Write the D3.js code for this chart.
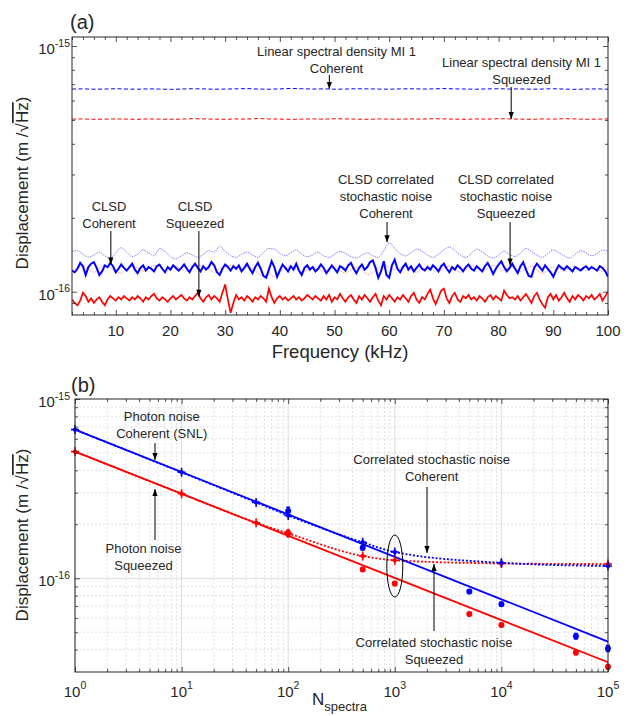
<!DOCTYPE html>
<html><head><meta charset="utf-8">
<script src="https://cdn.jsdelivr.net/npm/d3@7"></script>
<style>
body{margin:0;background:#fff}
svg{display:block}
text{font-family:"Liberation Sans",Arial,Helvetica,sans-serif;fill:#262626}
</style>
</head><body>
<svg id="c" width="631" height="716"></svg>
<script>
// ---------------- DATA (values in units of 1e-16 m/sqrt(Hz)) ----------------
// Panel (a): frequency grids (kHz)
const freqFine = d3.range(2, 100.0001, 0.5);   // thick CLSD traces
const freqCoarse = d3.range(2, 100.0001, 1);   // correlated stochastic noise traces
const freqDash = d3.range(2, 100.0001, 2);     // linear spectral density traces

const lsdCoherent = [6.68,6.69,6.67,6.68,6.70,6.68,6.67,6.69,6.68,6.66,6.68,6.70,6.69,6.67,6.68,6.69,6.71,6.68,6.67,6.69,6.72,6.70,6.68,6.69,6.67,6.68,6.70,6.69,6.68,6.67,6.69,6.70,6.68,6.69,6.71,6.69,6.68,6.67,6.69,6.70,6.68,6.69,6.67,6.68,6.70,6.68,6.66,6.68,6.69,6.67];
const lsdSqueezed = [5.04,5.05,5.03,5.04,5.05,5.04,5.03,5.05,5.04,5.03,5.04,5.06,5.05,5.04,5.03,5.05,5.04,5.07,5.05,5.04,5.03,5.04,5.05,5.04,5.06,5.05,5.04,5.03,5.05,5.04,5.04,5.05,5.04,5.06,5.05,5.04,5.03,5.05,5.04,5.06,5.05,5.04,5.03,5.05,5.04,5.06,5.05,5.03,5.04,5.05];

const clsdCoherent = [
1.22,1.20,1.24,1.31,1.27,1.17,1.26,1.30,1.32,1.25,
1.17,1.21,1.28,1.26,1.31,1.27,1.20,1.24,1.29,1.25,
1.22,1.26,1.30,1.23,1.19,1.25,1.28,1.22,1.26,1.24,
1.21,1.27,1.29,1.24,1.20,1.26,1.23,1.28,1.25,1.22,
1.25,1.29,1.24,1.20,1.26,1.30,1.25,1.21,1.27,1.23,
1.26,1.32,1.28,1.20,1.17,1.24,1.29,1.26,1.22,1.27,
1.24,1.28,1.21,1.25,1.30,1.24,1.19,1.26,1.31,1.24,
1.16,1.14,1.23,1.33,1.26,1.15,1.22,1.29,1.25,1.21,
1.27,1.23,1.30,1.22,1.17,1.25,1.28,1.23,1.26,1.21,
1.24,1.29,1.25,1.19,1.23,1.28,1.24,1.20,1.27,1.25,
1.22,1.28,1.31,1.24,1.19,1.25,1.29,1.23,1.26,1.32,
1.34,1.25,1.14,1.21,1.33,1.17,1.14,1.28,1.35,1.24,
1.20,1.26,1.30,1.23,1.27,1.21,1.25,1.29,1.24,1.22,
1.26,1.23,1.28,1.25,1.21,1.27,1.30,1.24,1.20,1.26,
1.23,1.28,1.25,1.21,1.26,1.29,1.24,1.22,1.27,1.24,
1.21,1.27,1.31,1.25,1.18,1.24,1.29,1.33,1.26,1.21,
1.25,1.30,1.24,1.19,1.27,1.32,1.23,1.16,1.15,1.25,
1.30,1.26,1.22,1.28,1.24,1.20,1.15,1.22,1.28,1.25,
1.23,1.27,1.24,1.21,1.26,1.24,1.22,1.25,1.27,1.23,
1.26,1.24,1.22,1.27,1.25,1.21,1.15];
const clsdSqueezed = [
0.93,0.90,0.88,0.92,0.99,0.96,0.91,0.94,0.90,0.93,
0.95,0.91,0.88,0.93,0.96,0.94,0.92,0.95,0.93,0.96,
0.94,0.92,0.95,0.93,0.96,0.94,0.91,0.95,0.93,0.96,
0.98,0.94,0.92,0.95,0.93,0.91,0.94,0.96,0.93,0.95,
0.97,0.94,0.92,0.95,0.93,0.96,0.99,0.94,0.91,0.95,
0.97,0.93,0.96,0.94,0.91,0.99,1.07,0.93,0.82,0.90,
0.97,0.93,0.95,0.92,0.96,0.94,0.91,0.95,0.93,0.96,
0.94,0.91,1.03,0.95,0.90,0.94,0.96,0.93,0.95,0.92,
0.94,0.96,0.93,0.95,0.92,0.94,0.97,0.95,0.93,0.96,
0.94,0.92,0.96,0.93,0.97,0.91,0.95,0.93,0.98,0.94,
0.91,0.95,0.97,0.93,0.90,0.96,0.93,0.97,0.94,0.91,
0.95,0.98,0.92,0.88,0.96,0.93,0.97,0.94,0.91,0.95,
0.93,0.97,0.94,0.91,0.96,0.99,0.93,0.90,0.95,0.93,
0.98,1.02,0.94,0.89,0.95,1.01,1.03,0.94,0.90,0.96,
0.99,0.93,0.91,0.96,0.94,0.97,0.93,0.95,0.92,0.96,
0.94,0.91,0.95,0.97,0.93,0.96,0.94,0.92,1.01,0.97,
0.94,0.95,0.93,0.96,0.92,0.95,0.98,0.94,0.90,0.96,
0.99,0.93,0.89,0.86,0.95,0.98,0.93,0.97,0.92,0.95,
0.99,0.94,0.91,0.96,0.93,0.97,0.95,0.92,0.96,0.94,
0.97,0.93,0.95,0.98,0.92,0.96,1.00];
const corrCoherentA = [
1.46,1.47,1.42,1.38,1.41,1.45,1.40,1.37,1.44,1.51,
1.45,1.39,1.42,1.48,1.44,1.40,1.50,1.46,1.39,1.36,
1.40,1.44,1.41,1.38,1.42,1.47,1.45,1.53,1.46,1.40,
1.38,1.42,1.45,1.41,1.38,1.44,1.50,1.49,1.43,1.40,
1.44,1.48,1.42,1.39,1.41,1.45,1.40,1.38,1.42,1.46,
1.43,1.39,1.37,1.41,1.44,1.40,1.38,1.47,1.58,1.50,
1.43,1.40,1.44,1.49,1.46,1.41,1.38,1.42,1.48,1.52,
1.47,1.41,1.38,1.43,1.49,1.45,1.40,1.37,1.41,1.46,
1.42,1.39,1.44,1.50,1.46,1.41,1.38,1.43,1.48,1.44,
1.40,1.37,1.42,1.47,1.44,1.40,1.43,1.48,1.46];
const corrSqueezedA = [
1.22,1.25,1.27,1.23,1.20,1.24,1.28,1.25,1.21,1.19,
1.23,1.27,1.25,1.21,1.24,1.28,1.26,1.22,1.25,1.27,
1.24,1.21,1.25,1.28,1.27,1.23,1.20,1.24,1.26,1.28,
1.25,1.22,1.26,1.24,1.19,1.16,1.18,1.15,1.21,1.25,
1.27,1.24,1.20,1.23,1.26,1.24,1.21,1.24,1.27,1.22,
1.19,1.23,1.26,1.24,1.17,1.20,1.25,1.28,1.26,1.23,
1.25,1.27,1.23,1.20,1.24,1.26,1.23,1.21,1.25,1.27,
1.24,1.20,1.23,1.27,1.25,1.22,1.24,1.28,1.26,1.22,
1.28,1.25,1.21,1.24,1.27,1.23,1.19,1.22,1.26,1.24,
1.21,1.25,1.27,1.24,1.22,1.25,1.23,1.21,1.24];
const freqTicks = [10,20,30,40,50,60,70,80,90,100];

// Panel (b)
const nCorr = [1, 10, 50, 100, 500, 1000, 10000, 100000];
const corrCoherentB = [6.75, 3.90, 2.65, 2.24, 1.587, 1.40, 1.22, 1.17];
const corrSqueezedB = [5.09, 2.96, 2.04, 1.78, 1.33, 1.26, 1.21, 1.20];
const nFit = [1, 100000];
const photonCoherentFit = [6.75, 0.443];
const photonSqueezedFit = [5.09, 0.340];
const nMeas = [100, 500, 5000, 10000, 50000, 100000];
const measCoherent = [2.37, 1.48, 0.843, 0.717, 0.475, 0.406];
const measCoherentErr = [0.05, 0.03, 0.025, 0.025, 0.035, 0.04];
const nMeasSq = [100, 500, 1000, 5000, 10000, 50000, 100000];
const measSqueezed = [1.78, 1.12, 0.935, 0.631, 0.548, 0.386, 0.321];
const measSqueezedErr = [0.04, 0.025, 0.025, 0.02, 0.02, 0.03, 0.03];
const nTicks = [1, 10, 100, 1000, 10000, 100000];
const nTickExp = ["0","1","2","3","4","5"];

// ---------------- DRAWING ----------------
const svg = d3.select('#c');
const INK = '#262626', BLUE = '#0000ff', RED = '#ff0000';
const U = 1e-16;

function supText(g, x, y, base, sup, anchor, fs, sfs, dy) {
  const t = g.append('text').attr('x', x).attr('y', y).attr('text-anchor', anchor).attr('font-size', fs);
  t.append('tspan').text(base);
  t.append('tspan').attr('font-size', sfs).attr('dy', -dy).text(sup);
  return t;
}
function arrow(g, x1, y1, x2, y2) {
  g.append('line').attr('x1', x1).attr('y1', y1).attr('x2', x2).attr('y2', y2)
    .attr('stroke', '#000').attr('stroke-width', 1);
  const dir = y2 > y1 ? 1 : -1, L = 7, W = 2.6;
  g.append('path').attr('d', `M${x2},${y2}L${x2 - W},${y2 - dir * L}L${x2 + W},${y2 - dir * L}Z`).attr('fill', '#000');
}
function label(g, cx, y0, lines, fs = 13, lh = 17) {
  lines.forEach((s, i) => g.append('text').attr('x', cx).attr('y', y0 + i * lh)
    .attr('text-anchor', 'middle').attr('font-size', fs).text(s));
}
function ticks(g, x, y, xMaj, xMin, yMaj, yMin) {
  const [x0, x1] = x.range(), [y0, y1] = y.range();
  const mk = (axis, vals, size, tr) => {
    const a = g.append('g').attr('transform', tr)
      .call(axis.tickValues(vals).tickSize(-size).tickSizeOuter(0).tickFormat(''));
    a.select('.domain').remove();
    a.selectAll('line').attr('stroke', INK).attr('stroke-width', 0.8);
  };
  [[xMaj, 5], [xMin, 3]].forEach(([v, s]) => {
    mk(d3.axisBottom(x), v, s, `translate(0,${y0})`);
    mk(d3.axisTop(x), v, s, `translate(0,${y1})`);
  });
  [[yMaj, 5], [yMin, 3]].forEach(([v, s]) => {
    mk(d3.axisLeft(y), v, s, `translate(${x0},0)`);
    mk(d3.axisRight(y), v, s, `translate(${x1},0)`);
  });
  g.append('rect').attr('x', x0).attr('y', y1).attr('width', x1 - x0).attr('height', y0 - y1)
    .attr('fill', 'none').attr('stroke', INK).attr('stroke-width', 1);
}
function yLabel(g, x, cy) {
  const t = g.append('text').attr('transform', `translate(${x},${cy}) rotate(-90)`)
    .attr('text-anchor', 'middle').attr('font-size', 17);
  t.append('tspan').text('Displacement (m /');
  t.append('tspan').text('\u221A');
  t.append('tspan').style('text-decoration', 'overline').text('Hz');
  t.append('tspan').text(')');
}

// ===== Panel (a) =====
const xa = d3.scaleLinear().domain([2, 100]).range([72, 608]);
const ya = d3.scaleLog().domain([8.04e-17, 1.088e-15]).range([315, 37]);
const ga = svg.append('g');
ga.append('clipPath').attr('id', 'clipA').append('rect')
  .attr('x', 72).attr('y', 37).attr('width', 536).attr('height', 278);
const la = d3.line().x(d => xa(d[0])).y(d => ya(d[1] * U));
const pa = ga.append('g').attr('clip-path', 'url(#clipA)');
const zipF = (fs, vs) => vs.map((v, i) => [fs[i], v]);

pa.append('path').datum(zipF(freqDash, lsdCoherent)).attr('d', la)
  .attr('fill', 'none').attr('stroke', BLUE).attr('stroke-width', 1).attr('stroke-dasharray', '4,2.5');
pa.append('path').datum(zipF(freqDash, lsdSqueezed)).attr('d', la)
  .attr('fill', 'none').attr('stroke', RED).attr('stroke-width', 1).attr('stroke-dasharray', '4,2.5');
pa.append('path').datum(zipF(freqCoarse, corrCoherentA)).attr('d', la.curve(d3.curveMonotoneX))
  .attr('fill', 'none').attr('stroke', '#8080ff').attr('stroke-width', 1).attr('stroke-dasharray', '1.5,1');
pa.append('path').datum(zipF(freqCoarse, corrSqueezedA)).attr('d', la.curve(d3.curveMonotoneX))
  .attr('fill', 'none').attr('stroke', '#ff9a9a').attr('stroke-width', 1).attr('stroke-dasharray', '1.5,1');
la.curve(d3.curveLinear);
pa.append('path').datum(zipF(freqFine, clsdSqueezed)).attr('d', la)
  .attr('fill', 'none').attr('stroke', RED).attr('stroke-width', 1.7);
pa.append('path').datum(zipF(freqFine, clsdCoherent)).attr('d', la)
  .attr('fill', 'none').attr('stroke', BLUE).attr('stroke-width', 2);

ticks(ga, xa, ya, freqTicks, d3.range(2, 100.1, 2).filter(v => v % 10 !== 0),
  [1e-15, 1e-16], [2,3,4,5,6,7,8,9].map(k => k * 1e-16).concat([9e-17]));
freqTicks.forEach(v => ga.append('text').attr('x', xa(v)).attr('y', 336)
  .attr('text-anchor', 'middle').attr('font-size', 15).text(v));
supText(ga, 70, ya(1e-15) + 8, '10', '-15', 'end', 15, 10.5, 7.5);
supText(ga, 70, ya(1e-16) + 8, '10', '-16', 'end', 15, 10.5, 7.5);
ga.append('text').attr('x', 340).attr('y', 358).attr('text-anchor', 'middle')
  .attr('font-size', 18.5).text('Frequency (kHz)');
yLabel(ga, 28, 183);
ga.append('text').attr('x', 70).attr('y', 29).attr('font-size', 20).text('(a)');

label(ga, 336.5, 55.5, ['Linear spectral density MI 1', 'Coherent']);
arrow(ga, xa(49.05), 75, xa(49.05), ya(6.68 * U));
label(ga, 521.5, 67, ['Linear spectral density MI 1', 'Squeezed']);
arrow(ga, xa(82.3), 87, xa(82.3), ya(5.04 * U));
label(ga, 109, 210.5, ['CLSD', 'Coherent']);
arrow(ga, xa(9.1), 231, xa(9.1), ya(1.29 * U));
label(ga, 195, 210.5, ['CLSD', 'Squeezed']);
arrow(ga, xa(25.2), 231, xa(25.2), ya(0.955 * U));
label(ga, 386, 183.5, ['CLSD correlated', 'stochastic noise', 'Coherent']);
arrow(ga, xa(59.6), 222, xa(59.6), ya(1.59 * U));
label(ga, 506, 183.5, ['CLSD correlated', 'stochastic noise', 'Squeezed']);
arrow(ga, xa(82.1), 222, xa(82.1), ya(1.28 * U));

// ===== Panel (b) =====
const xb = d3.scaleLog().domain([1, 1e5]).range([75, 608]);
const yb = d3.scaleLog().domain([3e-17, 1e-15]).range([672, 399]);
const gb = svg.append('g');
const xMinorB = [], yMinorB = [];
nTicks.slice(0, 5).forEach(d => { for (let k = 2; k <= 9; k++) xMinorB.push(d * k); });
[4,5,6,7,8,9].forEach(k => yMinorB.push(k * 1e-17));
[2,3,4,5,6,7,8,9].forEach(k => yMinorB.push(k * 1e-16));

// grid
const grid = gb.append('g');
xMinorB.forEach(v => grid.append('line').attr('x1', xb(v)).attr('x2', xb(v)).attr('y1', 399).attr('y2', 672)
  .attr('stroke', '#d9d9d9').attr('stroke-width', 0.8).attr('stroke-dasharray', '2,2'));
yMinorB.forEach(v => grid.append('line').attr('y1', yb(v)).attr('y2', yb(v)).attr('x1', 75).attr('x2', 608)
  .attr('stroke', '#d9d9d9').attr('stroke-width', 0.8).attr('stroke-dasharray', '2,2'));
nTicks.forEach(v => grid.append('line').attr('x1', xb(v)).attr('x2', xb(v)).attr('y1', 399).attr('y2', 672)
  .attr('stroke', '#dedede').attr('stroke-width', 1));
[1e-16].forEach(v => grid.append('line').attr('y1', yb(v)).attr('y2', yb(v)).attr('x1', 75).attr('x2', 608)
  .attr('stroke', '#dedede').attr('stroke-width', 1));

const lb = d3.line().x(d => xb(d[0])).y(d => yb(d[1] * U));
gb.append('path').datum(zipF(nCorr, corrSqueezedB)).attr('d', lb.curve(d3.curveMonotoneX))
  .attr('fill', 'none').attr('stroke', RED).attr('stroke-width', 1.8).attr('stroke-dasharray', '2,1.8');
gb.append('path').datum(zipF(nCorr, corrCoherentB)).attr('d', lb)
  .attr('fill', 'none').attr('stroke', BLUE).attr('stroke-width', 1.8).attr('stroke-dasharray', '2,1.8');
lb.curve(d3.curveLinear);
gb.append('path').datum(zipF(nFit, photonSqueezedFit)).attr('d', lb)
  .attr('fill', 'none').attr('stroke', RED).attr('stroke-width', 1.8);
gb.append('path').datum(zipF(nFit, photonCoherentFit)).attr('d', lb)
  .attr('fill', 'none').attr('stroke', BLUE).attr('stroke-width', 1.8);

function plusMarks(ns, vs, col) {
  ns.forEach((n, i) => {
    const x = xb(n), y = yb(vs[i] * U);
    gb.append('path').attr('d', `M${x - 4},${y}H${x + 4}M${x},${y - 4.5}V${y + 4.5}`)
      .attr('stroke', col).attr('stroke-width', 1.6);
    gb.append('circle').attr('cx', x).attr('cy', y).attr('r', 2.2).attr('fill', col);
  });
}
function dotMarks(ns, vs, errs, col) {
  ns.forEach((n, i) => {
    const x = xb(n), ya1 = yb(vs[i] * (1 + errs[i]) * U), ya0 = yb(vs[i] * (1 - errs[i]) * U);
    gb.append('path').attr('d', `M${x},${ya1}V${ya0}M${x - 2},${ya1}H${x + 2}M${x - 2},${ya0}H${x + 2}`)
      .attr('stroke', col).attr('stroke-width', 1.4);
    gb.append('circle').attr('cx', x).attr('cy', yb(vs[i] * U)).attr('r', 3).attr('fill', col);
  });
}
plusMarks(nCorr, corrSqueezedB, RED);
plusMarks(nCorr, corrCoherentB, BLUE);
dotMarks(nMeasSq, measSqueezed, measSqueezedErr, RED);
dotMarks(nMeas, measCoherent, measCoherentErr, BLUE);

ticks(gb, xb, yb, nTicks, xMinorB, [1e-15, 1e-16], yMinorB);
nTicks.forEach((v, i) => supText(gb, xb(v), 697, '10', nTickExp[i], 'middle', 15, 10.5, 8));
supText(gb, 70, yb(1e-15) + 8, '10', '-15', 'end', 15, 10.5, 7.5);
supText(gb, 70, yb(1e-16) + 8, '10', '-16', 'end', 15, 10.5, 7.5);
const nl = gb.append('text').attr('x', 312).attr('y', 705).attr('font-size', 17);
nl.append('tspan').text('N');
nl.append('tspan').attr('font-size', 13).attr('dy', 6).text('spectra');
yLabel(gb, 28, 535);
gb.append('text').attr('x', 71).attr('y', 392).attr('font-size', 20).text('(b)');

label(gb, 161.7, 421, ['Photon noise', 'Coherent (SNL)']);
arrow(gb, 155, 443, 155, 460);
label(gb, 143.5, 552.5, ['Photon noise', 'Squeezed']);
arrow(gb, 155, 540, 155, 489);
label(gb, 431.7, 463.5, ['Correlated stochastic noise', 'Coherent']);
arrow(gb, 427, 487, 427, 553);
label(gb, 434, 647, ['Correlated stochastic noise', 'Squeezed']);
arrow(gb, 434, 631, 434, 564);
gb.append('ellipse').attr('cx', xb(1000)).attr('cy', yb(1.17e-16)).attr('rx', 8).attr('ry', 31)
  .attr('fill', 'none').attr('stroke', '#000').attr('stroke-width', 1);
</script>
</body></html>
